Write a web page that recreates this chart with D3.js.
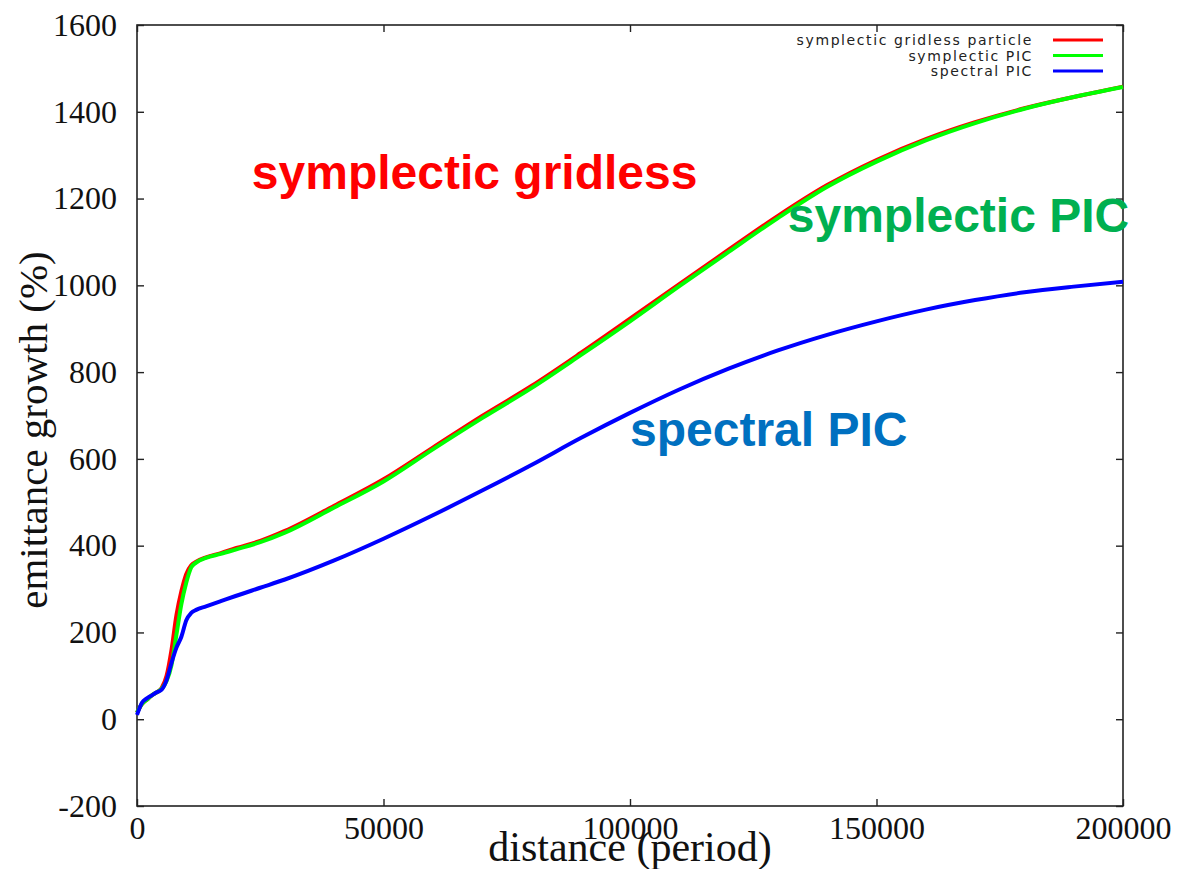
<!DOCTYPE html>
<html>
<head>
<meta charset="utf-8">
<script src="https://cdn.jsdelivr.net/npm/d3@7"></script>
<style>
  html, body { margin: 0; padding: 0; background: #fff; }
  svg { display: block; }
</style>
</head>
<body>
<svg id="chart" width="1184" height="869"></svg>
<script>
// distance (period) sample positions
const distance = [0, 1000, 2000, 3000, 4000, 5000, 6000, 7000, 8000, 9000, 10000, 11000, 12000,
  14000, 17000, 20000, 25000, 30000, 40000, 50000, 60000, 70000, 80000, 90000, 100000,
  110000, 120000, 130000, 140000, 150000, 160000, 170000, 180000, 190000, 200000];

// emittance growth (%) per run
const gridless = [15, 35, 45, 55, 62, 72, 100, 160, 240, 295, 335, 355, 363,
  373, 383, 394, 411, 434, 492, 553, 626, 699, 768, 844, 923,
  1003, 1082, 1160, 1231, 1289, 1337, 1376, 1408, 1434, 1458];
const sympPIC = [15, 35, 45, 55, 62, 70, 88, 125, 195, 265, 315, 350, 361,
  372, 381, 391, 408, 430, 488, 548, 622, 694, 763, 839, 917,
  998, 1077, 1155, 1227, 1285, 1334, 1374, 1407, 1434, 1457];
const spectralPIC = [10, 38, 48, 55, 62, 68, 90, 130, 165, 190, 228, 245, 252,
  260, 272, 284, 303, 322, 366, 416, 470, 527, 586, 648, 706,
  760, 808, 850, 886, 917, 944, 966, 984, 997, 1008];

const seriesNames = ["symplectic gridless particle", "symplectic PIC", "spectral PIC"];
const seriesColors = ["#ff0000", "#00ff00", "#0000ff"];
const seriesValues = [gridless, sympPIC, spectralPIC];

const xTicks = [0, 50000, 100000, 150000, 200000];
const yTicks = [-200, 0, 200, 400, 600, 800, 1000, 1200, 1400, 1600];

const annotations = [
  { text: "symplectic gridless", color: "#ff0000", x: 23300, y: 1222 },
  { text: "symplectic PIC", color: "#00b050", x: 132000, y: 1123 },
  { text: "spectral PIC", color: "#0070c0", x: 100000, y: 630 }
];

const svg = d3.select("#chart");
const plotLeft = 137, plotRight = 1123, plotTop = 25, plotBottom = 806;

const x = d3.scaleLinear().domain([0, 200000]).range([plotLeft, plotRight]);
const y = d3.scaleLinear().domain([-200, 1600]).range([plotBottom, plotTop]);

const axisColor = "#222";
const tickFont = "'Liberation Serif', 'Times New Roman', serif";
const plainNumber = d => String(d);

// frame
svg.append("rect")
  .attr("x", plotLeft).attr("y", plotTop)
  .attr("width", plotRight - plotLeft).attr("height", plotBottom - plotTop)
  .attr("fill", "none").attr("stroke", axisColor).attr("stroke-width", 1.6);

// inward ticks on all four sides
const tickLen = 7;
const bottomAxis = d3.axisBottom(x).tickValues(xTicks).tickSizeInner(-tickLen).tickSizeOuter(0).tickPadding(10).tickFormat(plainNumber);
const topAxis = d3.axisTop(x).tickValues(xTicks).tickSizeInner(-tickLen).tickSizeOuter(0).tickFormat("");
const leftAxis = d3.axisLeft(y).tickValues(yTicks).tickSizeInner(-tickLen).tickSizeOuter(0).tickPadding(20).tickFormat(plainNumber);
const rightAxis = d3.axisRight(y).tickValues(yTicks).tickSizeInner(-tickLen).tickSizeOuter(0).tickFormat("");

function styleAxis(g) {
  g.select(".domain").remove();
  g.selectAll(".tick line").attr("stroke", axisColor).attr("stroke-width", 1.4);
  g.selectAll(".tick text").attr("fill", "#111").style("font-family", tickFont).style("font-size", "32px");
}

svg.append("g").attr("transform", `translate(0,${plotBottom})`).call(bottomAxis).call(styleAxis);
svg.append("g").attr("transform", `translate(0,${plotTop})`).call(topAxis).call(styleAxis);
svg.append("g").attr("transform", `translate(${plotLeft},0)`).call(leftAxis).call(styleAxis);
svg.append("g").attr("transform", `translate(${plotRight},0)`).call(rightAxis).call(styleAxis);

// axis titles
svg.append("text")
  .attr("x", 630).attr("y", 861)
  .attr("text-anchor", "middle")
  .style("font-family", tickFont).style("font-size", "42px").attr("fill", "#111")
  .text("distance (period)");
svg.append("text")
  .attr("transform", "translate(47,430) rotate(-90)")
  .attr("text-anchor", "middle")
  .style("font-family", tickFont).style("font-size", "41px").attr("fill", "#111")
  .text("emittance growth (%)");

// curves
const line = d3.line()
  .x((d, i) => x(distance[i]))
  .y(d => y(d))
  .curve(d3.curveMonotoneX);

const plot = svg.append("g");
seriesValues.forEach((vals, k) => {
  plot.append("path")
    .attr("d", line(vals))
    .attr("fill", "none")
    .attr("stroke", seriesColors[k])
    .attr("stroke-width", 4)
    .attr("stroke-linejoin", "round");
});

// legend
const legend = svg.append("g");
seriesNames.forEach((name, k) => {
  const ly = 40 + k * 15.5;
  legend.append("text")
    .attr("x", 1033).attr("y", ly + 5)
    .attr("text-anchor", "end")
    .style("font-family", "'DejaVu Sans', sans-serif").style("font-size", "14px")
    .style("letter-spacing", "1.6px")
    .attr("fill", "#222")
    .text(name);
  legend.append("line")
    .attr("x1", 1053).attr("x2", 1103)
    .attr("y1", ly).attr("y2", ly)
    .attr("stroke", seriesColors[k]).attr("stroke-width", 3);
});

// run labels
annotations.forEach(a => {
  svg.append("text")
    .attr("x", x(a.x)).attr("y", y(a.y))
    .style("font-family", "'Liberation Sans', Arial, sans-serif")
    .style("font-weight", "bold").style("font-size", "48px")
    .attr("fill", a.color)
    .text(a.text);
});
</script>
</body>
</html>
